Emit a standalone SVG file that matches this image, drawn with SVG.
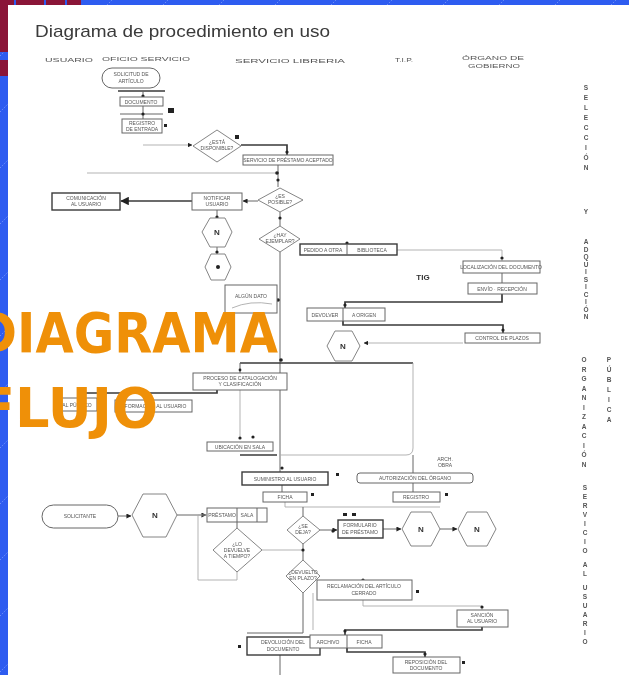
<svg xmlns="http://www.w3.org/2000/svg" width="629" height="675" viewBox="0 0 629 675">
  <defs>
    <pattern id="diag" width="56" height="56" patternUnits="userSpaceOnUse">
      <path d="M0 56 L56 0" stroke="#7d9cf7" stroke-width="0.8" stroke-dasharray="1.5 1.5"/>
    </pattern>
    <filter id="soft" x="-5%" y="-5%" width="110%" height="110%">
      <feGaussianBlur stdDeviation="0.55"/>
    </filter>
    <marker id="ah" viewBox="0 0 6 6" refX="5.5" refY="3" markerWidth="5" markerHeight="5" orient="auto">
      <path d="M0 0 L6 3 L0 6 Z" fill="#222"/>
    </marker>
    <style>
      .ln { stroke: #666; stroke-width: 1; fill: none; }
      .lt { stroke: #aaa; stroke-width: 0.9; fill: none; }
      .tk { stroke: #3a3a3a; stroke-width: 1.7; fill: none; }
      .bx { fill: #fff; stroke: #666; stroke-width: 1; }
      .bd { fill: #fff; stroke: #3a3a3a; stroke-width: 1.4; }
      .dm { fill: #fff; stroke: #777; stroke-width: 0.9; }
      .dot { fill: #222; }
      .t { font-family: "Liberation Sans", Arial, sans-serif; font-size: 5px; fill: #555; text-anchor: middle; }
      .tb { font-family: "Liberation Sans", Arial, sans-serif; font-size: 8px; font-weight: bold; fill: #333; text-anchor: middle; }
      .hd { font-family: "Liberation Sans", Arial, sans-serif; font-size: 6px; fill: #555; }
      .vt { font-family: "Liberation Sans", Arial, sans-serif; font-size: 6.5px; font-weight: bold; fill: #555; text-anchor: middle; }
      .big { font-family: "Comic Sans MS", "DejaVu Sans", "Liberation Sans", sans-serif; font-size: 55px; font-weight: bold; fill: #ef9008; }
    </style>
  </defs>

  <!-- slide background -->
  <rect x="0" y="0" width="629" height="675" fill="#2e5cf0"/>
  <rect x="0" y="0" width="629" height="675" fill="url(#diag)"/>
  <g id="corner" fill="#8a1538">
    <rect x="0" y="0" width="14" height="5"/>
    <rect x="16" y="0" width="28" height="5"/>
    <rect x="46" y="0" width="19" height="5"/>
    <rect x="67" y="0" width="14" height="5"/>
    <rect x="0" y="0" width="8" height="52"/>
    <rect x="0" y="60" width="8" height="16"/>
  </g>

  <!-- scanned sheet -->
  <rect x="8" y="5" width="621" height="670" fill="#fff"/>

  <g id="sheet" filter="url(#soft)">
    <text x="35" y="37" font-family="Liberation Sans, Arial, sans-serif" font-size="17" fill="#3a3a3a" textLength="295" lengthAdjust="spacingAndGlyphs">Diagrama de procedimiento en uso</text>

    <g id="headers">
      <text class="hd" x="45" y="62" textLength="48" lengthAdjust="spacingAndGlyphs">USUARIO</text>
      <text class="hd" x="102" y="61" textLength="88" lengthAdjust="spacingAndGlyphs">OFICIO SERVICIO</text>
      <text class="hd" x="235" y="63" textLength="110" lengthAdjust="spacingAndGlyphs">SERVICIO LIBRERIA</text>
      <text class="hd" x="395" y="62" textLength="18" lengthAdjust="spacingAndGlyphs">T.I.P.</text>
      <text class="hd" x="462" y="60" textLength="62" lengthAdjust="spacingAndGlyphs">ÓRGANO DE</text>
      <text class="hd" x="468" y="68" textLength="52" lengthAdjust="spacingAndGlyphs">GOBIERNO</text>
    </g>

    <!-- connectors -->
    <g id="connectors">
      <path class="tk" d="M118 91 H165"/>
      <path class="ln" d="M143 91 V97"/>
      <path class="ln" d="M120 114 H163"/>
      <path class="ln" d="M143 106 V119"/>
      <path class="lt" d="M143 145 H192" marker-end="url(#ah)"/>
      <path class="tk" d="M241 145 H287 V155"/>
      <path class="lt" d="M87 173 H278"/>
      <path class="ln" d="M278 165 V187"/>
      <path class="ln" d="M258 201 H243" marker-end="url(#ah)"/>
      <path class="tk" d="M192 201 H121" marker-end="url(#ah)"/>
      <path class="ln" d="M217 210 V219"/>
      <path class="ln" d="M217 246 V254"/>
      <path class="ln" d="M280 212 V226"/>
      <path class="ln" d="M280 252 V472"/>
      <path class="lt" d="M397 250 H502 V261"/>
      <path class="ln" d="M502 273 V283"/>
      <path class="tk" d="M502 294 V302 H345 V308"/>
      <path class="tk" d="M343 321 V325 H503 V333"/>
      <path class="lt" d="M463 343 H364" marker-end="url(#ah)"/>
      <path class="tk" d="M240 363 H413"/>
      <path class="lt" d="M413 363 V448 Q413 455 406 455 H280"/>
      <path class="ln" d="M240 363 V373"/>
      <path class="tk" d="M217 390 V393 H80"/>
      <path class="lt" d="M240 390 V438"/>
      <path class="tk" d="M240 455 H277"/>
      <path class="ln" d="M282 485 V492"/>
      <path class="ln" d="M413 455 V473"/>
      <path class="ln" d="M413 483 V492"/>
      <path class="lt" d="M285 502 V507 H440"/>
      <path class="ln" d="M303 507 V516"/>
      <path class="ln" d="M320 530 H337" marker-end="url(#ah)"/>
      <path class="ln" d="M383 529 H401" marker-end="url(#ah)"/>
      <path class="ln" d="M440 529 H457" marker-end="url(#ah)"/>
      <path class="ln" d="M118 516 H131" marker-end="url(#ah)"/>
      <path class="ln" d="M177 515 H206" marker-end="url(#ah)"/>
      <path class="ln" d="M237 522 V528"/>
      <path class="lt" d="M207 515 H198 V580 H237 V571"/>
      <path class="lt" d="M262 550 H303"/>
      <path class="ln" d="M303 543 V560"/>
      <path class="ln" d="M303 593 V633 H247"/>
      <path class="lt" d="M363 600 V606 H482 V610"/>
      <path class="tk" d="M482 627 V630 H345 V635"/>
      <path class="tk" d="M347 648 V652 H425 V657"/>
      <path class="ln" d="M280 655 V675"/>
      <path class="lt" d="M313 593 V630"/>
      <circle class="dot" cx="143" cy="96" r="1.6"/>
      <circle class="dot" cx="143" cy="114" r="1.6"/>
      <circle class="dot" cx="287" cy="152" r="1.6"/>
      <circle class="dot" cx="277" cy="173" r="1.8"/>
      <circle class="dot" cx="278" cy="180" r="1.6"/>
      <circle class="dot" cx="217" cy="217" r="1.6"/>
      <circle class="dot" cx="217" cy="252" r="1.6"/>
      <circle class="dot" cx="280" cy="218" r="1.6"/>
      <circle class="dot" cx="347" cy="243" r="1.6"/>
      <circle class="dot" cx="502" cy="258" r="1.6"/>
      <circle class="dot" cx="345" cy="305" r="1.6"/>
      <circle class="dot" cx="503" cy="330" r="1.6"/>
      <circle class="dot" cx="278" cy="300" r="1.8"/>
      <circle class="dot" cx="281" cy="360" r="1.8"/>
      <circle class="dot" cx="240" cy="370" r="1.4"/>
      <circle class="dot" cx="240" cy="438" r="1.6"/>
      <circle class="dot" cx="253" cy="437" r="1.6"/>
      <circle class="dot" cx="282" cy="468" r="1.6"/>
      <circle class="dot" cx="303" cy="550" r="1.6"/>
      <circle class="dot" cx="363" cy="580" r="1.6"/>
      <circle class="dot" cx="482" cy="607" r="1.6"/>
      <circle class="dot" cx="425" cy="654" r="1.6"/>
      <circle class="dot" cx="345" cy="631" r="1.6"/>
      <circle class="dot" cx="333" cy="531" r="1.6"/>
      <rect class="dot" x="168" y="108" width="6" height="5"/>
      <rect class="dot" x="164" y="124" width="3" height="3"/>
      <rect class="dot" x="235" y="135" width="4" height="4"/>
      <rect class="dot" x="336" y="473" width="3" height="3"/>
      <rect class="dot" x="311" y="493" width="3" height="3"/>
      <rect class="dot" x="445" y="493" width="3" height="3"/>
      <rect class="dot" x="416" y="590" width="3" height="3"/>
      <rect class="dot" x="462" y="661" width="3" height="3"/>
      <rect class="dot" x="238" y="645" width="3" height="3"/>
      <rect class="dot" x="343" y="513" width="4" height="3"/>
      <rect class="dot" x="352" y="513" width="4" height="3"/>
    </g>

    <!-- column 1 / 2 : request -->
    <g id="n-start">
      <rect class="bx" x="102" y="68" width="58" height="20" rx="10"/>
      <text class="t" x="131" y="76">SOLICITUD DE</text>
      <text class="t" x="131" y="83">ARTÍCULO</text>
    </g>
    <g id="n-doc">
      <rect class="bx" x="120" y="97" width="43" height="9"/>
      <text class="t" x="141" y="103.5">DOCUMENTO</text>
    </g>
    <g id="n-reg">
      <rect class="bx" x="122" y="119" width="40" height="14"/>
      <text class="t" x="142" y="125">REGISTRO</text>
      <text class="t" x="142" y="131">DE ENTRADA</text>
    </g>
    <g id="n-d1">
      <polygon class="dm" points="217,130 241,146 217,162 193,146"/>
      <text class="t" x="217" y="144">¿ESTÁ</text>
      <text class="t" x="217" y="150">DISPONIBLE?</text>
    </g>
    <g id="n-serv">
      <rect class="bx" x="243" y="155" width="90" height="10"/>
      <text class="t" x="288" y="162">SERVICIO DE PRÉSTAMO ACEPTADO</text>
    </g>
    <g id="n-d2">
      <polygon class="dm" points="280,188 303,200 280,212 258,200"/>
      <text class="t" x="280" y="198">¿ES</text>
      <text class="t" x="280" y="204">POSIBLE?</text>
    </g>
    <g id="n-notif">
      <rect class="bx" x="192" y="193" width="50" height="17"/>
      <text class="t" x="217" y="200">NOTIFICAR</text>
      <text class="t" x="217" y="206">USUARIO</text>
    </g>
    <g id="n-user-out">
      <rect class="bd" x="52" y="193" width="68" height="17"/>
      <text class="t" x="86" y="200">COMUNICACIÓN</text>
      <text class="t" x="86" y="206">AL USUARIO</text>
    </g>
    <g id="n-h1">
      <polygon class="dm" points="202,232 210,218 225,218 232,232 225,247 210,247"/>
      <text class="tb" x="217" y="235">N</text>
    </g>
    <g id="n-h2">
      <polygon class="dm" points="205,267 211,254 225,254 231,267 225,280 211,280"/>
      <circle class="dot" cx="218" cy="267" r="2"/>
    </g>
    <g id="n-d3">
      <polygon class="dm" points="280,226 300,239 280,252 259,239"/>
      <text class="t" x="280" y="237">¿HAY</text>
      <text class="t" x="280" y="243">EJEMPLAR?</text>
    </g>
    <g id="n-pedido">
      <rect class="bd" x="300" y="244" width="97" height="11"/>
      <line class="ln" x1="347" y1="244" x2="347" y2="255"/>
      <text class="t" x="323" y="251.5">PEDIDO A OTRA</text>
      <text class="t" x="372" y="251.5">BIBLIOTECA</text>
    </g>

    <!-- T.I.G. column -->
    <text class="tb" x="423" y="280">TIG</text>
    <g id="n-tig1">
      <rect class="bx" x="463" y="261" width="77" height="12"/>
      <text class="t" x="501" y="269">LOCALIZACIÓN DEL DOCUMENTO</text>
    </g>
    <g id="n-tig2">
      <rect class="bx" x="468" y="283" width="69" height="11"/>
      <text class="t" x="502" y="290.5">ENVÍO · RECEPCIÓN</text>
    </g>
    <g id="n-devol">
      <rect class="bx" x="307" y="308" width="78" height="13"/>
      <line class="ln" x1="343" y1="308" x2="343" y2="321"/>
      <text class="t" x="325" y="316.5">DEVOLVER</text>
      <text class="t" x="364" y="316.5">A ORIGEN</text>
    </g>
    <g id="n-tig3">
      <rect class="bx" x="465" y="333" width="75" height="10"/>
      <text class="t" x="502" y="340">CONTROL DE PLAZOS</text>
    </g>
    <g id="n-h3">
      <polygon class="dm" points="327,346 335,331 352,331 360,346 352,361 335,361"/>
      <text class="tb" x="343" y="349">N</text>
    </g>
    <g id="n-algun">
      <rect class="bx" x="225" y="285" width="52" height="28"/>
      <text class="t" x="251" y="298">ALGÚN DATO</text>
      <path class="lt" d="M232 308 Q250 300 272 304"/>
    </g>

    <!-- processing -->
    <g id="n-proc">
      <rect class="bx" x="193" y="373" width="94" height="17"/>
      <text class="t" x="240" y="380">PROCESO DE CATALOGACIÓN</text>
      <text class="t" x="240" y="386">Y CLASIFICACIÓN</text>
    </g>
    <g id="n-pub">
      <rect class="bx" x="57" y="398" width="40" height="13"/>
      <text class="t" x="77" y="406.5">AL PÚBLICO</text>
    </g>
    <g id="n-inf">
      <rect class="bx" x="115" y="400" width="77" height="12"/>
      <text class="t" x="153" y="408">INFORMACIÓN AL USUARIO</text>
    </g>
    <g id="n-ubic">
      <rect class="bx" x="207" y="442" width="66" height="9"/>
      <text class="t" x="240" y="448.5">UBICACIÓN EN SALA</text>
    </g>
    <g id="n-sumin">
      <rect class="bd" x="242" y="472" width="86" height="13"/>
      <text class="t" x="285" y="480.5">SUMINISTRO AL USUARIO</text>
    </g>
    <text class="t" x="445" y="461">ARCH.</text>
    <text class="t" x="445" y="467">OBRA</text>
    <g id="n-autor">
      <rect class="bx" x="357" y="473" width="116" height="10" rx="3"/>
      <text class="t" x="415" y="480">AUTORIZACIÓN DEL ÓRGANO</text>
    </g>
    <g id="n-fich1">
      <rect class="bx" x="263" y="492" width="44" height="10"/>
      <text class="t" x="285" y="499">FICHA</text>
    </g>
    <g id="n-fich2">
      <rect class="bx" x="393" y="492" width="47" height="10"/>
      <text class="t" x="416" y="499">REGISTRO</text>
    </g>

    <!-- usage -->
    <g id="n-solic">
      <rect class="bx" x="42" y="505" width="76" height="23" rx="11.5"/>
      <text class="t" x="80" y="518">SOLICITANTE</text>
    </g>
    <g id="n-h4">
      <polygon class="dm" points="132,515 143,494 166,494 177,515 166,537 143,537"/>
      <text class="tb" x="155" y="518">N</text>
    </g>
    <g id="n-pres">
      <rect class="bx" x="207" y="508" width="60" height="14"/>
      <line class="ln" x1="237" y1="508" x2="237" y2="522"/>
      <line class="ln" x1="257" y1="508" x2="257" y2="522"/>
      <text class="t" x="222" y="517">PRÉSTAMO</text>
      <text class="t" x="247" y="517">SALA</text>
    </g>
    <g id="n-d4">
      <polygon class="dm" points="237,528 262,550 237,572 213,550"/>
      <text class="t" x="237" y="546">¿LO</text>
      <text class="t" x="237" y="552">DEVUELVE</text>
      <text class="t" x="237" y="558">A TIEMPO?</text>
    </g>
    <g id="n-d5">
      <polygon class="dm" points="303,516 320,530 303,544 287,530"/>
      <text class="t" x="303" y="528">¿SE</text>
      <text class="t" x="303" y="534">DEJA?</text>
    </g>
    <g id="n-form">
      <rect class="bd" x="338" y="520" width="45" height="18"/>
      <text class="t" x="360" y="527">FORMULARIO</text>
      <text class="t" x="360" y="534">DE PRÉSTAMO</text>
    </g>
    <g id="n-h5">
      <polygon class="dm" points="402,529 411,512 431,512 440,529 431,546 411,546"/>
      <text class="tb" x="421" y="532">N</text>
    </g>
    <g id="n-h6">
      <polygon class="dm" points="458,529 467,512 487,512 496,529 487,546 467,546"/>
      <text class="tb" x="477" y="532">N</text>
    </g>
    <g id="n-d6">
      <polygon class="dm" points="303,560 320,576 303,593 286,576"/>
      <text class="t" x="303" y="574">¿DEVUELTO</text>
      <text class="t" x="303" y="580">EN PLAZO?</text>
    </g>
    <g id="n-recl">
      <rect class="bx" x="317" y="580" width="95" height="20"/>
      <text class="t" x="364" y="588">RECLAMACIÓN DEL ARTÍCULO</text>
      <text class="t" x="364" y="595">CERRADO</text>
    </g>
    <g id="n-sanc">
      <rect class="bx" x="457" y="610" width="51" height="17"/>
      <text class="t" x="482" y="617">SANCIÓN</text>
      <text class="t" x="482" y="623">AL USUARIO</text>
    </g>
    <g id="n-devuel">
      <rect class="bd" x="247" y="637" width="73" height="18"/>
      <text class="t" x="283" y="644">DEVOLUCIÓN DEL</text>
      <text class="t" x="283" y="651">DOCUMENTO</text>
    </g>
    <g id="n-archivo">
      <rect class="bx" x="310" y="635" width="72" height="13"/>
      <line class="ln" x1="347" y1="635" x2="347" y2="648"/>
      <text class="t" x="328" y="643.5">ARCHIVO</text>
      <text class="t" x="364" y="643.5">FICHA</text>
    </g>
    <g id="n-final">
      <rect class="bx" x="393" y="657" width="67" height="16"/>
      <text class="t" x="426" y="664">REPOSICIÓN DEL</text>
      <text class="t" x="426" y="670">DOCUMENTO</text>
    </g>

    <!-- stage captions along the right margin -->
    <g id="stages">
      <text class="vt"><tspan x="586" y="90">S</tspan><tspan x="586" dy="10">E</tspan><tspan x="586" dy="10">L</tspan><tspan x="586" dy="10">E</tspan><tspan x="586" dy="10">C</tspan><tspan x="586" dy="10">C</tspan><tspan x="586" dy="10">I</tspan><tspan x="586" dy="10">Ó</tspan><tspan x="586" dy="10">N</tspan></text>
      <text class="vt" x="586" y="214">Y</text>
      <text class="vt"><tspan x="586" y="244">A</tspan><tspan x="586" dy="7.5">D</tspan><tspan x="586" dy="7.5">Q</tspan><tspan x="586" dy="7.5">U</tspan><tspan x="586" dy="7.5">I</tspan><tspan x="586" dy="7.5">S</tspan><tspan x="586" dy="7.5">I</tspan><tspan x="586" dy="7.5">C</tspan><tspan x="586" dy="7.5">I</tspan><tspan x="586" dy="7.5">Ó</tspan><tspan x="586" dy="7.5">N</tspan></text>
      <text class="vt"><tspan x="584" y="362">O</tspan><tspan x="584" dy="9.5">R</tspan><tspan x="584" dy="9.5">G</tspan><tspan x="584" dy="9.5">A</tspan><tspan x="584" dy="9.5">N</tspan><tspan x="584" dy="9.5">I</tspan><tspan x="584" dy="9.5">Z</tspan><tspan x="584" dy="9.5">A</tspan><tspan x="584" dy="9.5">C</tspan><tspan x="584" dy="9.5">I</tspan><tspan x="584" dy="9.5">Ó</tspan><tspan x="584" dy="9.5">N</tspan></text>
      <text class="vt"><tspan x="609" y="362">P</tspan><tspan x="609" dy="10">Ú</tspan><tspan x="609" dy="10">B</tspan><tspan x="609" dy="10">L</tspan><tspan x="609" dy="10">I</tspan><tspan x="609" dy="10">C</tspan><tspan x="609" dy="10">A</tspan></text>
      <text class="vt"><tspan x="585" y="490">S</tspan><tspan x="585" dy="9">E</tspan><tspan x="585" dy="9">R</tspan><tspan x="585" dy="9">V</tspan><tspan x="585" dy="9">I</tspan><tspan x="585" dy="9">C</tspan><tspan x="585" dy="9">I</tspan><tspan x="585" dy="9">O</tspan><tspan x="585" dy="14">A</tspan><tspan x="585" dy="9">L</tspan><tspan x="585" dy="14">U</tspan><tspan x="585" dy="9">S</tspan><tspan x="585" dy="9">U</tspan><tspan x="585" dy="9">A</tspan><tspan x="585" dy="9">R</tspan><tspan x="585" dy="9">I</tspan><tspan x="585" dy="9">O</tspan></text>
    </g>
  </g>

  <!-- slide title overlay, intentionally running off the left edge -->
  <g id="overlay">
    <text class="big" x="-24" y="352" textLength="302" lengthAdjust="spacingAndGlyphs">DIAGRAMA</text>
    <text class="big" x="-22" y="427" textLength="180" lengthAdjust="spacingAndGlyphs">FLUJO</text>
  </g>
</svg>
